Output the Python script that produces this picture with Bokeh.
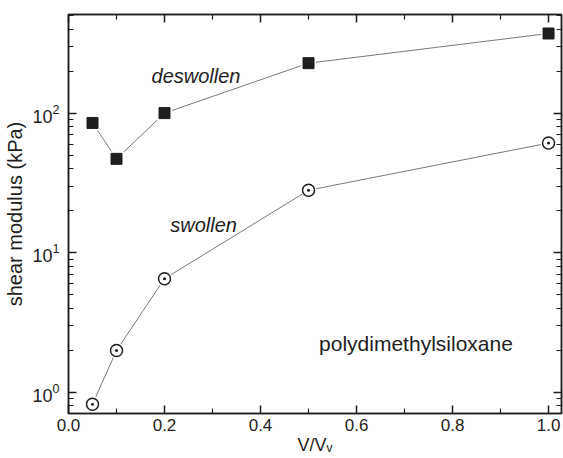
from bokeh.plotting import figure
from bokeh.models import (Range1d, FixedTicker, LinearAxis, LogAxis, Label,
                          ColumnDataSource, CustomJSTickFormatter,
                          NumeralTickFormatter)
from bokeh.embed import file_html
from bokeh.resources import INLINE

# data
v_ratio = [0.05, 0.1, 0.2, 0.5, 1.0]
deswollen = [85, 47, 100, 228, 372]
swollen = [0.82, 1.99, 6.5, 28.0, 61]
x_ticks = [0.0, 0.2, 0.4, 0.6, 0.8, 1.0]
x_minor = [0.1, 0.3, 0.5, 0.7, 0.9]
y_ticks = [1, 10, 100]
y_minor = [0.8, 0.9, 2, 3, 4, 5, 6, 7, 8, 9, 20, 30, 40, 50, 60, 70, 80, 90,
           200, 300, 400, 500]

FONT = "Liberation Sans"
INK = "#1e1e1e"

p = figure(width=563, height=458, output_backend="svg", toolbar_location=None,
           y_axis_type="log",
           x_range=Range1d(0, 1.027), y_range=Range1d(0.703, 509),
           min_border_left=68, min_border_right=2, min_border_top=14,
           min_border_bottom=45)
p.outline_line_color = INK
p.outline_line_width = 1.5
p.xgrid.visible = False
p.ygrid.visible = False
p.background_fill_color = "white"
p.border_fill_color = "white"

src_d = ColumnDataSource(dict(x=v_ratio, y=deswollen))
src_s = ColumnDataSource(dict(x=v_ratio, y=swollen))

p.line("x", "y", source=src_d, line_color="#555555", line_width=0.8)
p.line("x", "y", source=src_s, line_color="#555555", line_width=0.8)
p.scatter("x", "y", source=src_d, marker="square", size=15,
          fill_color="white", line_color=None)
p.scatter("x", "y", source=src_d, marker="square", size=11,
          fill_color=INK, line_color=INK)
p.scatter("x", "y", source=src_s, marker="circle", size=16,
          fill_color="white", line_color=None)
p.scatter("x", "y", source=src_s, marker="circle_dot", size=12,
          fill_color="white", line_color=INK, line_width=1.5)

def style(ax):
    ax.axis_line_color = INK
    ax.axis_line_width = 1.5
    ax.major_tick_line_color = INK
    ax.minor_tick_line_color = INK
    ax.major_tick_line_width = 1.5
    ax.minor_tick_line_width = 1.2
    ax.major_tick_in = 8
    ax.major_tick_out = 0
    ax.minor_tick_in = 5
    ax.minor_tick_out = 0
    ax.major_label_text_font = FONT
    ax.major_label_text_font_size = "17px"
    ax.major_label_text_color = INK
    ax.axis_label_text_font = FONT
    ax.axis_label_text_font_size = "19px"
    ax.axis_label_text_font_style = "normal"
    ax.axis_label_text_color = INK

xt = FixedTicker(ticks=x_ticks, minor_ticks=x_minor)
yt = FixedTicker(ticks=y_ticks, minor_ticks=y_minor)

xa = p.xaxis[0]
xa.ticker = xt
xa.formatter = NumeralTickFormatter(format="0.0")
xa.axis_label = "V/V\u1d65"
xa.major_label_standoff = 5
xa.axis_label_standoff = 1
style(xa)
xa.axis_label_text_font_size = "18px"

ya = p.yaxis[0]
ya.ticker = yt
ya.axis_label = "shear modulus (kPa)"
ya.major_label_standoff = 9
ya.axis_label_standoff = 3
style(ya)
ya.major_label_text_font_size = "18px"
ya.axis_label_text_font_size = "20px"

blank = CustomJSTickFormatter(code="return ''")

top = LinearAxis(ticker=xt, formatter=blank)
style(top)
top.major_label_standoff = 0
p.add_layout(top, "above")

right = LogAxis(ticker=yt, formatter=blank)
style(right)
right.major_label_standoff = 0
p.add_layout(right, "right")

for txt, x, y, st, fs in [("deswollen", 0.173, 183, "italic", "20px"),
                          ("swollen", 0.212, 15.9, "italic", "20px"),
                          ("polydimethylsiloxane", 0.522, 2.23, "normal", "21px")]:
    p.add_layout(Label(x=x, y=y, text=txt, text_font=FONT,
                       text_font_size=fs, text_font_style=st,
                       text_color=INK, text_baseline="alphabetic",
                       text_align="left"))

open("out.html", "w").write(file_html(p, INLINE))
